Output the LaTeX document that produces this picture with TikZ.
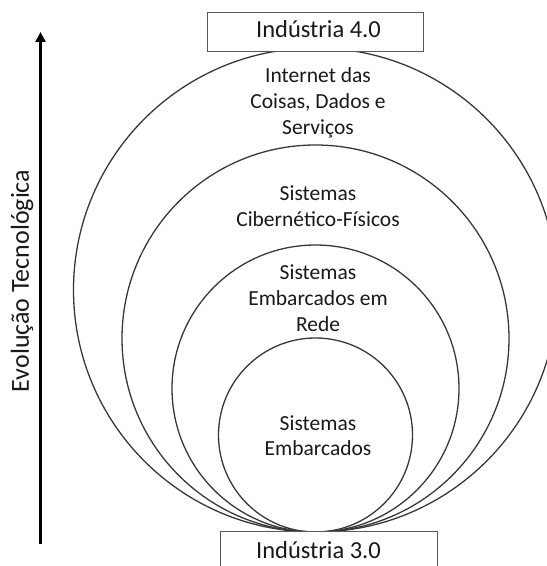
\documentclass[tikz,border=0pt]{standalone}
\usepackage{fontspec}
\setmainfont{Carlito}
\usetikzlibrary{arrows.meta}
\tikzset{
  ring/.style={circle, draw=black!78, line width=1.3pt, inner sep=0pt, minimum size=#1},
  lbl/.style={align=center, text=black!90, font=\fontsize{21.5}{26}\selectfont, inner sep=0pt},
  stagebox/.style={draw=black!65, line width=1pt, fill=white, minimum width=216pt, minimum height=39pt, inner sep=0pt},
  boxtxt/.style={text=black!90, font=\fontsize{24.5}{28}\selectfont, inner sep=0pt, anchor=base}
}
\begin{document}
\begin{tikzpicture}[x=1pt,y=1pt]
\useasboundingbox (0,0) rectangle (547,566);
% circles, all tangent at the bottom point
\node[ring=484pt] (c1) at (315.5,276) {};
\node[ring=387pt] (c2) at (315.5,227.5) {};
\node[ring=287pt] (c3) at (315.5,177.5) {};
\node[ring=194pt] (c4) at (315.5,131) {};
% boxes
\node[stagebox] (top) at (315,533.5) {};
\node[boxtxt] (toptxt) at (318.5,528) {Indústria 4.0};
\node[stagebox, minimum width=217pt, minimum height=50pt] (bot) at (328.5,9) {};
\node[boxtxt] (bottxt) at (318.5,7) {Indústria 3.0};
% labels (anchor base = baseline of last line)
\node[lbl, anchor=base] (l1) at (318,431) {Internet das\\Coisas, Dados e\\Serviços};
\node[lbl, anchor=base] (l2) at (318,339) {Sistemas\\Cibernético-Físicos};
\node[lbl, anchor=base] (l3) at (318,234) {Sistemas\\Embarcados em\\Rede};
\node[lbl, anchor=base] (l4) at (318,110) {Sistemas\\Embarcados};
% arrow
\coordinate (a0) at (40.5,22);
\coordinate (a1) at (40.5,534);
\draw[line width=3pt, -{Triangle[width=10pt,length=10pt]}] (a0) -- (a1);
\node[lbl, rotate=90, font=\fontsize{26}{28}\selectfont] (evo) at (22,285) {Evolução Tecnológica};
\end{tikzpicture}
\end{document}
